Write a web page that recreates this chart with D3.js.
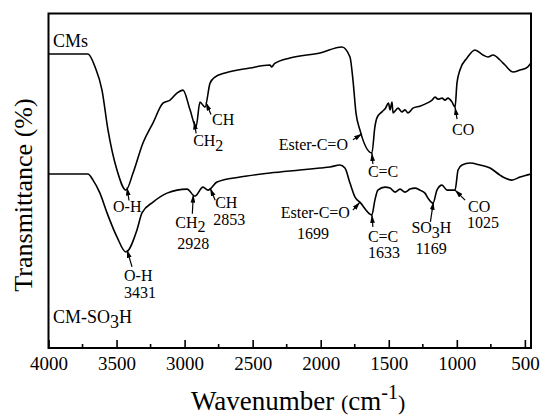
<!DOCTYPE html>
<html>
<head>
<meta charset="utf-8">
<script src="https://cdn.jsdelivr.net/npm/d3@7"></script>
<style>
  body { margin: 0; background: #fff; }
  svg text { font-family: "Liberation Serif", "Times New Roman", serif; fill: #000; }
</style>
</head>
<body>
<svg id="chart" width="541" height="418"></svg>
<script>
// ---- data (wavenumber in cm-1, transmittance in arbitrary %) ----
var cms_wavenumber = [4000, 3710, 3658, 3607, 3563, 3497, 3431, 3379, 3306, 3232, 3159, 3107, 3056, 3012,
  2960, 2916, 2887, 2850, 2813, 2777, 2703, 2520, 2373, 2360, 2340, 2226, 2005, 1844, 1785, 1763, 1741,
  1712, 1624, 1602, 1587, 1550, 1524, 1502, 1491, 1476, 1469, 1432, 1403, 1381, 1359, 1322, 1271, 1219,
  1182, 1160, 1138, 1109, 1087, 1065, 1035, 1013, 999, 977, 925, 867, 808, 771, 734, 683, 646, 587, 536, 480, 455];
var cms_transmittance = [87.9, 87.9, 84.0, 77.1, 65.2, 53.2, 47.2, 52.3, 61.3, 67.3, 73.2, 74.1, 76.2, 77.1,
  71.2, 66.1, 73.5, 72.0, 79.2, 81.0, 82.2, 83.7, 84.6, 84.0, 85.0, 86.7, 88.2, 90.0, 87.0, 80.1, 70.3,
  65.2, 58.3, 66.1, 68.8, 70.6, 71.7, 73.2, 71.2, 73.5, 70.3, 71.7, 70.6, 71.2, 70.3, 71.7, 72.3, 73.2,
  74.1, 75.0, 74.4, 74.7, 74.1, 74.7, 73.5, 72.0, 79.2, 83.1, 86.7, 89.1, 87.6, 87.0, 87.6, 86.1, 84.6, 82.5, 83.1, 84.0, 85.2];

var so3h_wavenumber = [4000, 3710, 3673, 3622, 3570, 3497, 3431, 3350, 3313, 3232, 3129, 2982, 2924, 2865,
  2828, 2762, 2593, 2373, 2152, 2005, 1932, 1859, 1822, 1785, 1748, 1712, 1624, 1602, 1580, 1528, 1491,
  1454, 1417, 1381, 1344, 1307, 1271, 1234, 1212, 1175, 1146, 1109, 1072, 1013, 991, 962, 903, 830, 756,
  683, 646, 595, 536, 455];
var so3h_transmittance = [52.0, 52.0, 50.2, 46.3, 40.4, 33.2, 28.7, 35.3, 40.4, 43.6, 46.3, 47.5, 45.4, 48.1,
  47.2, 49.6, 51.1, 52.3, 53.2, 53.8, 54.1, 54.7, 53.8, 49.3, 45.1, 43.6, 39.8, 44.2, 47.2, 48.1, 47.8,
  46.6, 47.5, 46.6, 47.5, 47.8, 47.2, 46.3, 44.8, 43.3, 47.2, 48.7, 47.2, 47.2, 53.2, 54.7, 55.3, 54.7, 53.8,
  51.7, 50.8, 50.2, 51.1, 52.0];

var major_ticks = [4000, 3500, 3000, 2500, 2000, 1500, 1000, 500];
var minor_ticks = [3750, 3250, 2750, 2250, 1750, 1250, 750];

// band assignments ("_" marks a subscript digit)
var cms_band_labels = ["O-H", "CH_2", "CH", "Ester-C=O", "C=C", "CO"];
var cms_band_positions = [3423, 2930, 2843, 1697, 1624, 1013];
var so3h_band_labels = ["O-H", "CH_2", "CH", "Ester-C=O", "C=C", "SO_3H", "CO"];
var so3h_band_numbers = ["3431", "2928", "2853", "1699", "1633", "1169", "1025"];
var so3h_band_positions = [3423, 2936, 2812, 1712, 1624, 1172, 1013];

// ---- layout (pixel offsets of arrow tails / labels from the arrow tip) ----
var cms_layout = [
  { tail: [2, 13], text: [-14, 25], anchor: "start" },
  { tail: [2, 12], text: [-1, 25], anchor: "start" },
  { tail: [5, 12], text: [6, 22], anchor: "start" },
  { tail: [-9, 6], text: [-14, 16], anchor: "end" },
  { tail: [1, 11], text: [-4, 24], anchor: "start" },
  { tail: [2, 12], text: [-3, 28], anchor: "start" }
];
var so3h_layout = [
  { tail: [5, 17], text: [-3, 31], num: [-3, 48], anchor: "start", num_anchor: "start" },
  { tail: [-1, 19], text: [-18, 33], num: [-16, 54], anchor: "start", num_anchor: "start" },
  { tail: [5, 12], text: [5, 20], num: [3, 37], anchor: "start", num_anchor: "start" },
  { tail: [-7, 8], text: [-10, 16], num: [-47, 37], anchor: "end", num_anchor: "middle" },
  { tail: [1, 12], text: [-4, 27], num: [-4, 43], anchor: "start", num_anchor: "start" },
  { tail: [-3, 20], text: [-22, 31], num: [-18, 52], anchor: "start", num_anchor: "start" },
  { tail: [10, 10], text: [13, 22], num: [12, 38], anchor: "start", num_anchor: "start" }
];

var margin = { left: 48.5, right: 531, top: 13.5, bottom: 348 };
var label_size = 16;

var svg = d3.select("#chart");

var x = d3.scaleLinear().domain([4000, 455]).range([margin.left, margin.right]);
var y = d3.scaleLinear().domain([0, 100]).range([margin.bottom, margin.top]);

svg.append("defs").append("clipPath").attr("id", "plot_clip")
  .append("rect").attr("x", margin.left).attr("y", margin.top)
  .attr("width", margin.right - margin.left).attr("height", margin.bottom - margin.top);

var marker = svg.select("defs").append("marker")
  .attr("id", "arrow_head").attr("markerUnits", "userSpaceOnUse")
  .attr("viewBox", "0 0 10 6").attr("refX", 10).attr("refY", 3)
  .attr("markerWidth", 8).attr("markerHeight", 5).attr("orient", "auto");
marker.append("path").attr("d", "M0,0 L10,3 L0,6 Z").style("fill", "#000");

/*************************** curves ***************************/

var line = d3.line()
  .x(function(d){ return x(d[0]); })
  .y(function(d){ return y(d[1]); })
  .curve(d3.curveMonotoneX);

var cms_points = cms_wavenumber.map(function(w, i){ return [w, cms_transmittance[i]]; });
var so3h_points = so3h_wavenumber.map(function(w, i){ return [w, so3h_transmittance[i]]; });

var plot = svg.append("g").attr("clip-path", "url(#plot_clip)");
[cms_points, so3h_points].forEach(function(points){
  plot.append("path").datum(points).attr("d", line)
    .style("fill", "none").style("stroke", "#000").style("stroke-width", 1.6).style("stroke-linejoin", "round");
});

/*************************** axis + frame ***************************/

var xAxis = svg.append("g").attr("transform", "translate(0," + margin.bottom + ")")
  .call(d3.axisBottom(x).tickValues(major_ticks).tickSize(-8).tickSizeOuter(0).tickPadding(8.5)
    .tickFormat(d3.format("d")));
xAxis.select(".domain").remove();
xAxis.selectAll(".tick line").style("stroke", "#000").style("stroke-width", 1.6);
xAxis.selectAll(".tick text").style("font-size", "19px");
xAxis.attr("font-family", null).attr("font-size", null);

svg.append("g").selectAll("line").data(minor_ticks).enter().append("line")
  .attr("x1", function(d){ return x(d); }).attr("x2", function(d){ return x(d); })
  .attr("y1", margin.bottom).attr("y2", margin.bottom - 4)
  .style("stroke", "#000").style("stroke-width", 1.6);

svg.append("rect")
  .attr("x", margin.left).attr("y", margin.top)
  .attr("width", margin.right - margin.left).attr("height", margin.bottom - margin.top)
  .style("fill", "none").style("stroke", "#000").style("stroke-width", 2);

/*************************** text helpers ***************************/

function add_text(g, str, px, py, size, anchor){
  var t = g.append("text").attr("x", px).attr("y", py)
    .style("font-size", size + "px").attr("text-anchor", anchor || "start");
  var parts = str.split(/_(\d)/);
  var shifted = false;
  parts.forEach(function(p, i){
    if(i % 2 == 1){
      t.append("tspan").attr("dy", size * 0.3).text(p);
      shifted = true;
    } else if(p !== ""){
      var s = t.append("tspan").text(p);
      if(shifted){ s.attr("dy", -size * 0.3); shifted = false; }
    }
  });
  return t;
}

function value_at(ws, vs, w){
  for(var i = 0; i < ws.length - 1; i++){
    if(w <= ws[i] && w >= ws[i+1]){
      var f = (ws[i] - w) / (ws[i] - ws[i+1]);
      return vs[i] + f * (vs[i+1] - vs[i]);
    }
  }
  return vs[vs.length - 1];
}

/*************************** band annotations ***************************/

var notes = svg.append("g");

function draw_arrow(tx, ty, lay){
  notes.append("line")
    .attr("x1", tx + lay.tail[0]).attr("y1", ty + lay.tail[1])
    .attr("x2", tx).attr("y2", ty)
    .style("stroke", "#000").style("stroke-width", 1.2)
    .attr("marker-end", "url(#arrow_head)");
}

cms_band_labels.forEach(function(lbl, i){
  var w = cms_band_positions[i], lay = cms_layout[i];
  var tx = x(w), ty = y(value_at(cms_wavenumber, cms_transmittance, w));
  draw_arrow(tx, ty, lay);
  add_text(notes, lbl, tx + lay.text[0], ty + lay.text[1], label_size, lay.anchor);
});

so3h_band_labels.forEach(function(lbl, i){
  var w = so3h_band_positions[i], lay = so3h_layout[i];
  var tx = x(w), ty = y(value_at(so3h_wavenumber, so3h_transmittance, w));
  draw_arrow(tx, ty, lay);
  add_text(notes, lbl, tx + lay.text[0], ty + lay.text[1], label_size, lay.anchor);
  add_text(notes, so3h_band_numbers[i], tx + lay.num[0], ty + lay.num[1], label_size, lay.num_anchor);
});

// series names
add_text(svg, "CMs", 53, 47, 18);
add_text(svg, "CM-SO_3H", 53, 323, 18);

/*************************** axis titles ***************************/

svg.append("text")
  .attr("transform", "translate(32,195) rotate(-90)")
  .attr("text-anchor", "middle")
  .style("font-size", "26px")
  .text("Transmittance (%)");

var xt = svg.append("text").attr("x", 191).attr("y", 410).style("font-size", "27px");
xt.append("tspan").text("Wavenumber ");
xt.append("tspan").style("font-size", "22px").text("(");
xt.append("tspan").text("cm");
xt.append("tspan").attr("dy", -11).style("font-size", "20px").text("-1");
xt.append("tspan").attr("dy", 11).style("font-size", "22px").text(")");
</script>
</body>
</html>
